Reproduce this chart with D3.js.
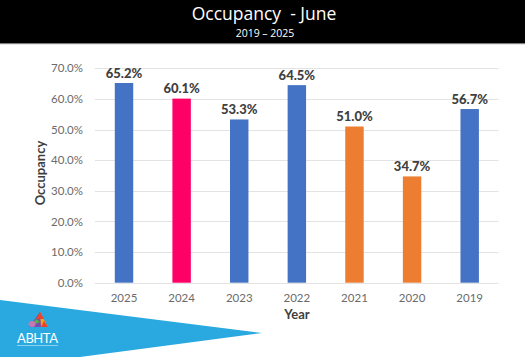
<!DOCTYPE html>
<html><head><meta charset="utf-8">
<script src="https://cdn.jsdelivr.net/npm/d3@7"></script>
<style>html,body{margin:0;padding:0;background:#fff;}svg{display:block;}</style>
</head><body>
<script>
const years = ["2025","2024","2023","2022","2021","2020","2019"];
const occupancy = [65.2, 60.1, 53.3, 64.5, 51.0, 34.7, 56.7];
const barColors = ["#4472C4","#FF0066","#4472C4","#4472C4","#ED7D31","#ED7D31","#4472C4"];
const yTicks = [0,10,20,30,40,50,60,70];
const title = "Occupancy  - June";
const subtitle = "2019 – 2025";

const W = 525, H = 357;
const svg = d3.select("body").append("svg").attr("width", W).attr("height", H);
const font = "Lato, 'Open Sans', sans-serif";

// header
svg.append("rect").attr("x",0).attr("y",0).attr("width",W).attr("height",44).attr("fill","#000");
svg.append("rect").attr("x",0).attr("y",43).attr("width",W).attr("height",1.2).attr("fill","#7f7f7f");
svg.append("text").attr("x",264).attr("y",20).attr("text-anchor","middle").style("white-space","pre")
  .attr("font-family","'Open Sans', 'Liberation Sans', sans-serif").attr("font-size",17.5).attr("fill","#fff").text(title);
svg.append("text").attr("x",265).attr("y",37).attr("text-anchor","middle")
  .attr("font-family","'Open Sans', 'Liberation Sans', sans-serif").attr("font-size",10.5).attr("fill","#fff").text(subtitle);

const x = d3.scaleBand().domain(years).range([95.2, 498.5]).paddingInner(0.68).paddingOuter(0.34);
const y = d3.scaleLinear().domain([0,70]).range([282.7, 68.3]);

// gridlines
svg.append("g").selectAll("line").data(yTicks).join("line")
  .attr("x1",95).attr("x2",498.5)
  .attr("y1",d=>Math.round(y(d))+0.5).attr("y2",d=>Math.round(y(d))+0.5)
  .attr("stroke","#e3e3e3").attr("stroke-width",1);

// y axis labels
const yAxis = d3.axisLeft(y).tickValues(yTicks).tickFormat(d=>d.toFixed(1)+"%").tickSize(0).tickPadding(0);
const gy = svg.append("g").attr("transform","translate(83,0)").call(yAxis);
gy.select(".domain").remove();
gy.selectAll("text").attr("font-family",font).attr("font-size",11.5).attr("fill","#6b6b6b");

// x axis labels
const xAxis = d3.axisBottom(x).tickSize(0).tickPadding(0);
const gx = svg.append("g").attr("transform","translate(0,293.5)").call(xAxis);
gx.select(".domain").remove();
gx.selectAll("text").attr("font-family",font).attr("font-size",11.5).attr("fill","#6b6b6b");

// bars
svg.append("g").selectAll("rect").data(years).join("rect")
  .attr("x",d=>x(d)).attr("width",x.bandwidth())
  .attr("y",(d,i)=>y(occupancy[i])).attr("height",(d,i)=>y(0)-y(occupancy[i]))
  .attr("fill",(d,i)=>barColors[i]);

// value labels
svg.append("g").selectAll("text").data(years).join("text")
  .attr("x",d=>x(d)+x.bandwidth()/2).attr("y",(d,i)=>y(occupancy[i])-5.5)
  .attr("text-anchor","middle").attr("font-family",font).attr("font-weight","900")
  .attr("font-size",13).attr("fill","#404040")
  .text((d,i)=>occupancy[i].toFixed(1)+"%");

// axis titles
svg.append("text").attr("transform","translate(44.5,173) rotate(-90)").attr("text-anchor","middle")
  .attr("font-family",font).attr("font-weight","bold").attr("font-size",13).attr("fill","#404040").text("Occupancy");
svg.append("text").attr("x",297).attr("y",319).attr("text-anchor","middle")
  .attr("font-family",font).attr("font-weight","bold").attr("font-size",13).attr("fill","#404040").text("Year");

// blue banner
svg.append("path").attr("d","M0,300 L262,333 L80,357 L0,357 Z").attr("fill","#29A9E0");

// logo
const lg = svg.append("g").attr("transform","translate(27,312)");
lg.append("path").attr("d","M13,0 L21,15 L2,15 Z").attr("fill","#7b4fa8");
lg.append("path").attr("d","M13,0 L21,15 L14,15 Z").attr("fill","#f2a31b");
lg.append("path").attr("d","M13,0 L17,7 L9,7 Z").attr("fill","#e8452c");
lg.append("path").attr("d","M9,7 L13,10 L5,13 Z").attr("fill","#4db848");
lg.append("path").attr("d","M14,15 L21,15 L17,9 Z").attr("fill","#e8452c");
lg.append("ellipse").attr("cx",5).attr("cy",12).attr("rx",3.5).attr("ry",3).attr("fill","#c678b4");
svg.append("text").attr("x",37.5).attr("y",343).attr("text-anchor","middle")
  .attr("font-family","Lato, 'DejaVu Sans', sans-serif").attr("font-size",13).attr("textLength",41).attr("fill","#fff").text("ABHTA");
svg.append("line").attr("x1",17).attr("x2",58).attr("y1",345.5).attr("y2",345.5).attr("stroke","#cfe9f7").attr("stroke-width",0.6);
</script>
</body></html>
